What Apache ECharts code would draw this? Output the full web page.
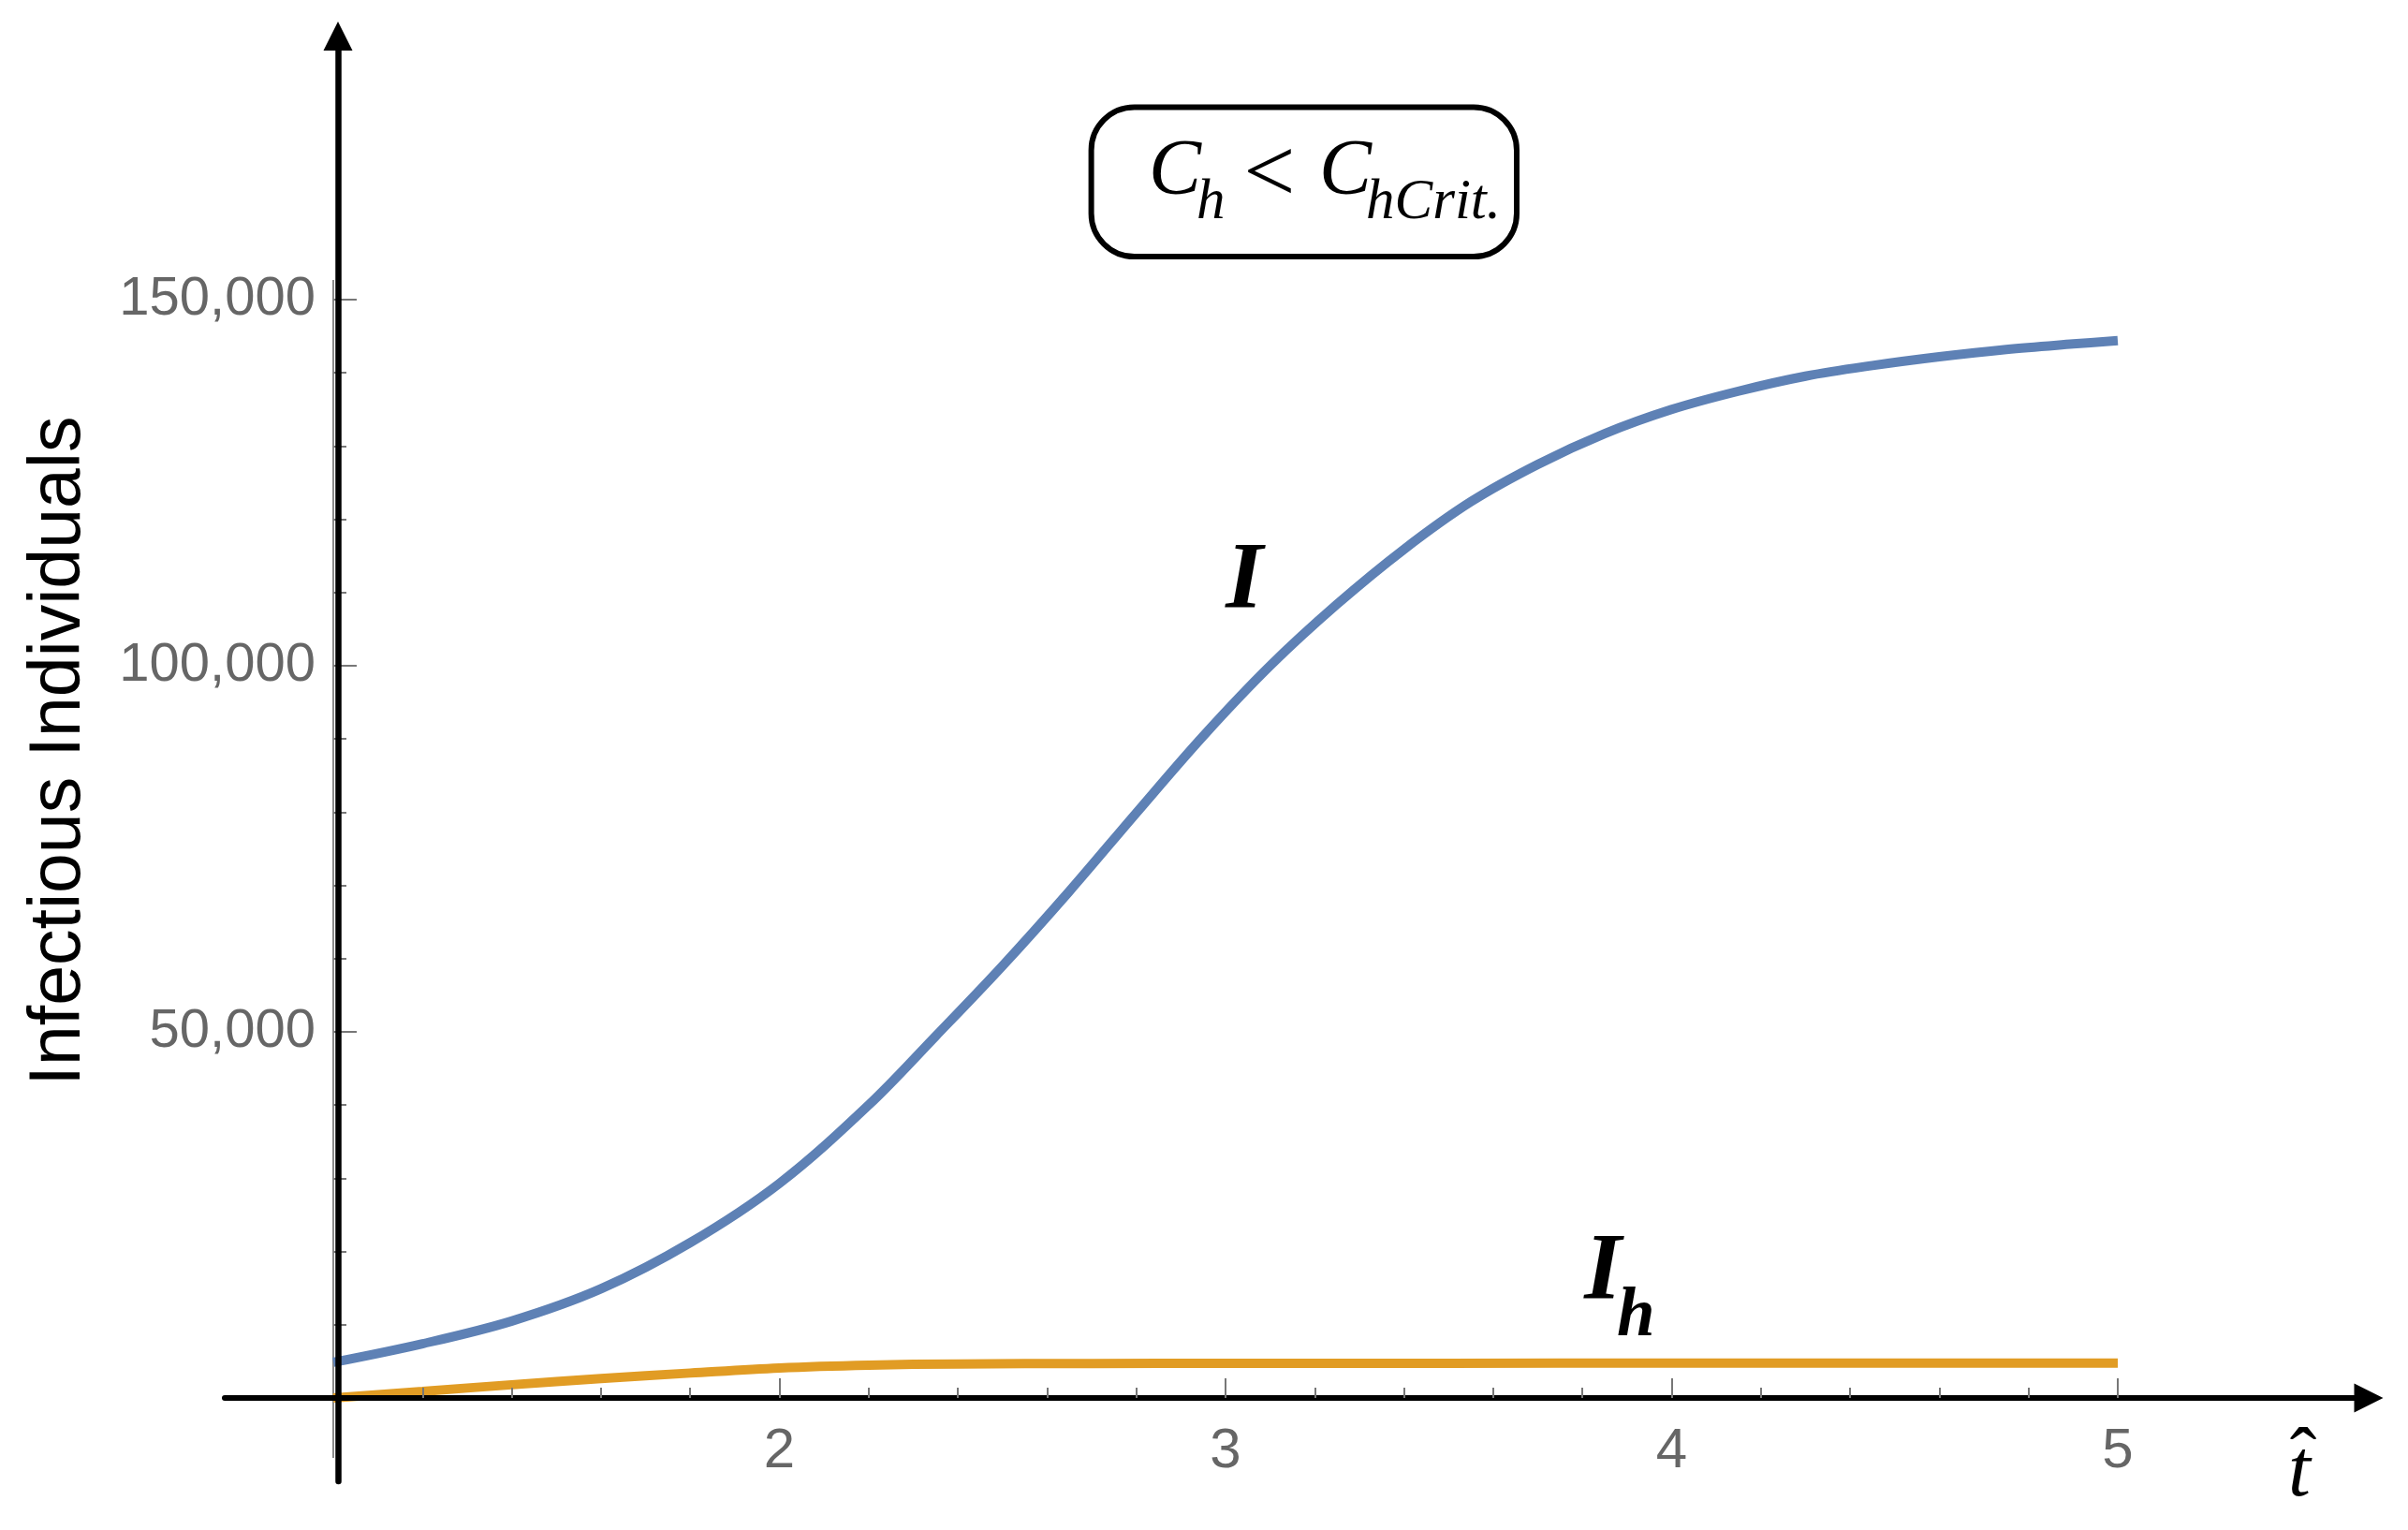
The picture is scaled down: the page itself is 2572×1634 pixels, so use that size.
<!DOCTYPE html>
<html><head><meta charset="utf-8">
<script src="https://cdn.jsdelivr.net/npm/echarts@6/dist/echarts.min.js"></script>
<style>html,body{margin:0;padding:0;background:#fff}#c{width:2572px;height:1634px}</style>
</head><body><div id="c"></div>
<script>
// ---- data ----
const T_I = [1.0, 1.2, 1.4, 1.6, 1.8, 2.0, 2.2, 2.35, 2.5, 2.65, 2.8, 2.95, 3.1, 3.25, 3.4, 3.55, 3.7, 3.85, 4.0, 4.15, 4.3, 4.45, 4.6, 4.75, 4.9, 5.0];
const I_VALUES = [4860, 7400, 10500, 14900, 21200, 29300, 40000, 49400, 59000, 69200, 79900, 90400, 100000, 108400, 115900, 122400, 127500, 131700, 135000, 137500, 139550, 141000, 142200, 143200, 143950, 144400];
const T_IH = [1.0, 1.2, 1.4, 1.6, 1.8, 2.0, 2.2, 2.4, 2.7, 3.0, 3.5, 4.0, 4.5, 5.0];
const IH_VALUES = [0, 900, 1800, 2650, 3400, 4100, 4480, 4640, 4700, 4720, 4740, 4750, 4760, 4760];

const X_MAJOR_TICKS = [2, 3, 4, 5];
const X_MINOR_TICKS = [1.2, 1.4, 1.6, 1.8, 2.2, 2.4, 2.6, 2.8, 3.2, 3.4, 3.6, 3.8, 4.2, 4.4, 4.6, 4.8];
const Y_MAJOR_TICKS = [50000, 100000, 150000];
const Y_MINOR_TICKS = [10000, 20000, 30000, 40000, 60000, 70000, 80000, 90000, 110000, 120000, 130000, 140000];
const X_RANGE = [0.7566, 5.5625];
const Y_RANGE = [-11400, 186000];
const Y_AXIS_AT = 1;   // t where the vertical axis crosses
const X_AXIS_AT = 0;   // value where the horizontal axis crosses
const PLOT_RANGE_Y = [-8200, 152700];

const Y_NAME = 'Infectious Individuals';
const SERIES_NAMES = ['I', 'I_h'];

// ---- layout ----
const W = 2572, H = 1634;
const GRID = {left: 240, right: 42, top: 38.5, bottom: 51.9};
const gridW = W - GRID.left - GRID.right;
const gridH = H - GRID.top - GRID.bottom;
const pxPerX = gridW / (X_RANGE[1] - X_RANGE[0]);
const pxPerY = gridH / (Y_RANGE[1] - Y_RANGE[0]);
const yShift = -(Y_AXIS_AT - X_RANGE[0]) * pxPerX;
const xShift = -(X_AXIS_AT - Y_RANGE[0]) * pxPerY;

const TICK_GRAY = '#777777';
const LABEL_GRAY = '#666666';
const SANS = '"Liberation Sans", Arial, sans-serif';
const SERIF = '"Liberation Serif", "Times New Roman", serif';

const chart = echarts.init(document.getElementById('c'), null, {renderer: 'canvas'});

function xAx(ticks, len, withLabels) {
  return {
    type: 'value', min: X_RANGE[0], max: X_RANGE[1], position: 'bottom', offset: xShift, z: 5,
    axisLine: withLabels ? {show: true, onZero: false,
      lineStyle: {color: '#000', width: 6}, symbol: ['none', 'triangle'], symbolSize: [31, 31]}
      : {show: false, onZero: false},
    axisTick: {show: true, inside: true, length: len, customValues: ticks,
      lineStyle: {color: TICK_GRAY, width: 2}},
    axisLabel: withLabels ? {show: true, customValues: ticks, margin: 27, lineHeight: 60,
      fontFamily: SANS, fontSize: 60, color: LABEL_GRAY} : {show: false},
    splitLine: {show: false}, minorTick: {show: false}
  };
}
function yAx(ticks, len, withLabels) {
  return {
    type: 'value', min: Y_RANGE[0], max: Y_RANGE[1], position: 'left', offset: yShift, z: 5,
    axisLine: {show: false, onZero: false},
    axisTick: {show: true, inside: true, length: len, customValues: ticks,
      lineStyle: {color: TICK_GRAY, width: 2}},
    axisLabel: withLabels ? {show: true, customValues: ticks, margin: 19,
      fontFamily: SANS, fontSize: 58, color: LABEL_GRAY, padding: [0, 0, 10, 0],
      formatter: v => Number(v).toLocaleString('en-US')} : {show: false},
    splitLine: {show: false}
  };
}

const option = {
  animation: false,
  backgroundColor: '#ffffff',
  grid: Object.assign({containLabel: false, outerBoundsMode: 'none'}, GRID),
  xAxis: [xAx(X_MAJOR_TICKS, 21, true), xAx(X_MINOR_TICKS, 11, false)],
  yAxis: [
    {type: 'value', min: Y_RANGE[0], max: Y_RANGE[1], position: 'left', offset: yShift - 5, z: 6,
     axisLine: {show: true, onZero: false, lineStyle: {color: '#000', width: 6.5},
       symbol: ['none', 'triangle'], symbolSize: [31, 31]},
     axisTick: {show: false}, axisLabel: {show: false}, splitLine: {show: false}},
    yAx(Y_MAJOR_TICKS, 25, true),
    yAx(Y_MINOR_TICKS, 14, false)
  ],
  series: [
    {type: 'line', silent: true, z: 1, symbol: 'none', clip: false,
     data: [[Y_AXIS_AT, PLOT_RANGE_Y[0]], [Y_AXIS_AT, PLOT_RANGE_Y[1]]],
     lineStyle: {color: '#888888', width: 2}},
    {name: SERIES_NAMES[0], type: 'line', z: 2, symbol: 'none', smooth: 0.35,
     data: T_I.map((t, i) => [t, I_VALUES[i]]),
     lineStyle: {color: '#5E81B5', width: 10, cap: 'butt'}},
    {name: SERIES_NAMES[1], type: 'line', z: 2, symbol: 'none', smooth: 0.35,
     data: T_IH.map((t, i) => [t, IH_VALUES[i]]),
     lineStyle: {color: '#E19C24', width: 10, cap: 'butt'}}
  ],
  graphic: [
    {type: 'rect', z: 10, shape: {x: 1165.6, y: 114.5, width: 454.4, height: 159.5, r: 46},
     style: {fill: '#fff', stroke: '#000', lineWidth: 6}},
    {type: 'text', z: 11, style: {text: 'C', x: 1227, y: 184.6, font: 'italic 84px ' + SERIF, fill: '#000', align: 'left', verticalAlign: 'middle'}},
    {type: 'text', z: 11, style: {text: 'h', x: 1278, y: 217.4, font: 'italic 61px ' + SERIF, fill: '#000', align: 'left', verticalAlign: 'middle'}},
    {type: 'text', z: 11, style: {text: '<', x: 1356, y: 189, font: '98px ' + SERIF, fill: '#000', align: 'center', verticalAlign: 'middle'}},
    {type: 'text', z: 11, style: {text: 'C', x: 1409, y: 184.6, font: 'italic 84px ' + SERIF, fill: '#000', align: 'left', verticalAlign: 'middle'}},
    {type: 'text', z: 11, style: {text: 'hCrit.', x: 1459, y: 217.4, font: 'italic 61px ' + SERIF, fill: '#000', align: 'left', verticalAlign: 'middle'}},
    {type: 'text', z: 11, style: {text: 'I', x: 1329, y: 623, font: 'italic bold 102px ' + SERIF, fill: '#000', align: 'center', verticalAlign: 'middle'}},
    {type: 'text', z: 11, style: {text: 'I', x: 1712, y: 1361, font: 'italic bold 102px ' + SERIF, fill: '#000', align: 'center', verticalAlign: 'middle'}},
    {type: 'text', z: 11, style: {text: 'h', x: 1727, y: 1407, font: 'italic bold 73px ' + SERIF, fill: '#000', align: 'left', verticalAlign: 'middle'}},
    {type: 'text', z: 11, style: {text: 't', x: 2456, y: 1574, font: 'italic 86px ' + SERIF, fill: '#000', align: 'center', verticalAlign: 'middle'}},
    {type: 'text', z: 11, style: {text: '\u02C6', x: 2460, y: 1562, font: '86px ' + SERIF, fill: '#000', align: 'center', verticalAlign: 'middle'}},
    {type: 'text', z: 11, rotation: Math.PI / 2, x: 63.5, y: 802,
     style: {text: Y_NAME, x: 0, y: 0, font: '77px ' + SANS, fill: '#000', align: 'center', verticalAlign: 'middle'}}
  ]
};
chart.setOption(option);
</script>
</body></html>
